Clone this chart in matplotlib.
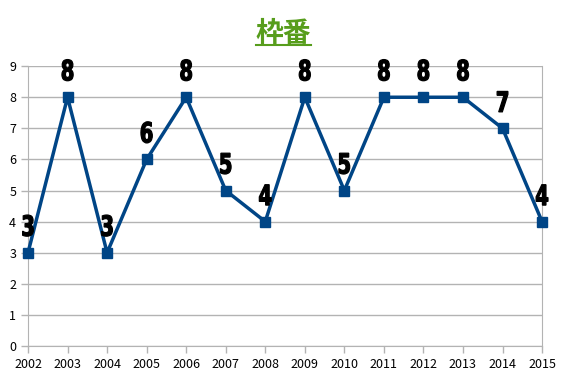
import matplotlib.pyplot as plt
from matplotlib.lines import Line2D
from matplotlib.textpath import TextPath
from matplotlib.patches import PathPatch
from matplotlib.font_manager import FontProperties
from matplotlib.transforms import Affine2D, IdentityTransform

years = [2002, 2003, 2004, 2005, 2006, 2007, 2008, 2009, 2010, 2011, 2012, 2013, 2014, 2015]
values = [3, 8, 3, 6, 8, 5, 4, 8, 5, 8, 8, 8, 7, 4]

plt.rcParams['font.family'] = ['Noto Sans CJK JP', 'DejaVu Sans']

fig = plt.figure(figsize=(5.67, 3.78), dpi=100)
ax = fig.add_axes([0.0494, 0.0847, 0.9066, 0.7403])

ax.plot(years, values, color='#004586', lw=2.5, marker='s', ms=7, zorder=3, clip_on=False)

ax.set_xlim(2002, 2015)
ax.set_ylim(0, 9)
ax.set_xticks(years)
ax.set_yticks(range(10))
ax.grid(axis='y', color='#b3b3b3', lw=1)
ax.set_axisbelow(True)
for s in ['left', 'bottom', 'right']:
    ax.spines[s].set_color('#b3b3b3')
ax.spines['top'].set_visible(False)
ax.tick_params(colors='#b3b3b3', labelcolor='black', labelsize=9, length=5, width=1)

# data labels: tall narrow bold digits (DejaVu bold squeezed horizontally)
fp = FontProperties(family='DejaVu Sans', weight='bold')
for x, v in zip(years, values):
    tp = TextPath((0, 0), str(v), size=28, prop=fp)
    ext = tp.get_extents()
    px, py = ax.transData.transform((x, v))
    tr = (Affine2D().translate(-(ext.x0 + ext.x1) / 2, -ext.y0)
          .scale(0.7, 1.0).translate(px, py + 16.5))
    fig.add_artist(PathPatch(tr.transform_path(tp), transform=IdentityTransform(),
                             facecolor='black', edgecolor='black', lw=0.9, zorder=5))

fig.text(0.5, 0.91, '枠番', ha='center', va='center', fontsize=20,
         fontweight='bold', color='#579d1c')
fig.add_artist(Line2D([256 / 567, 311 / 567], [1 - 45 / 378, 1 - 45 / 378],
                      color='#579d1c', lw=1.5))

fig.savefig('out.png', dpi=100)
